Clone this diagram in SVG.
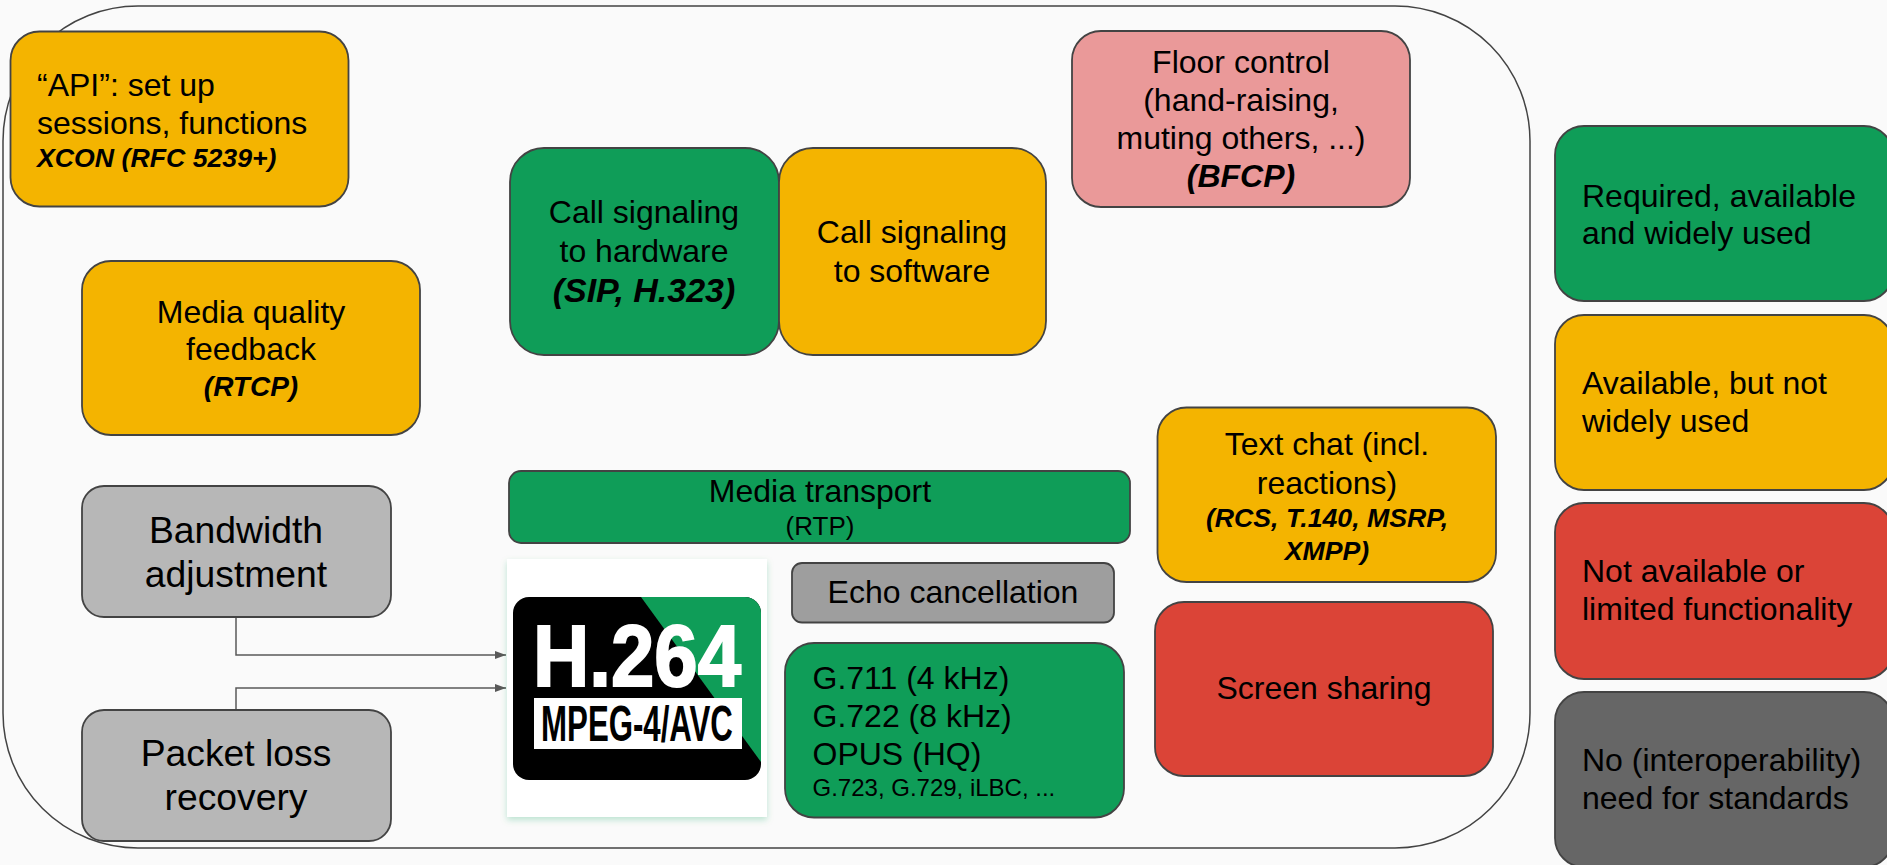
<svg xmlns="http://www.w3.org/2000/svg" width="1887" height="865" viewBox="0 0 1887 865">
<style>
text{font-family:"Liberation Sans",Arial,sans-serif;fill:#000;text-anchor:middle}
.b{stroke:#434343;stroke-width:1.8}
.g{fill:#0f9d58}.y{fill:#f4b400}.r{fill:#db4437}.p{fill:#ea9999}.l{fill:#b7b7b7}.d{fill:#9e9e9e}.k{fill:#666}
.t{font-size:32px}.s{font-size:37.300px}
.i{font-weight:bold;font-style:italic}
.st{text-anchor:start}
.c{fill:none;stroke:#595959;stroke-width:1.5}
</style>
<defs>
<marker id="a" markerWidth="12" markerHeight="10" refX="11" refY="4" orient="auto" markerUnits="userSpaceOnUse"><path d="M0 0L11 4L0 8Z" fill="#595959"/></marker>
<filter id="sh" x="-10%" y="-10%" width="120%" height="120%"><feDropShadow dx="0" dy="3" stdDeviation="3" flood-color="#0f9d58" flood-opacity=".25"/></filter>
</defs>
<rect width="1887" height="865" fill="#fafafa"/>
<rect id="frame" x="3" y="6" width="1527" height="842" rx="135" fill="none" stroke="#434343" stroke-width="1.5"/>
<g id="connectors">
<path class="c" d="M236 617V655H506" marker-end="url(#a)"/>
<path class="c" d="M236 710V688H506" marker-end="url(#a)"/>
</g>
<g id="api"><rect class="b y" x="10.500" y="31.500" width="338" height="175" rx="29"/>
<text class="t st" x="37" y="96">“API”: set up</text><text class="t st" x="37" y="133.500">sessions, functions</text><text class="i st" font-size="26.700" x="37" y="167">XCON (RFC 5239+)</text></g>
<g id="media-quality"><rect class="b y" x="82" y="261" width="338" height="174" rx="29"/>
<text class="t" x="251" y="323">Media quality</text><text class="t" x="251" y="360">feedback</text><text class="i" font-size="28" x="251" y="396">(RTCP)</text></g>
<g id="bandwidth"><rect class="b l" x="82" y="486" width="309" height="131" rx="22"/>
<text class="s" x="236" y="543">Bandwidth</text><text class="s" x="236" y="587">adjustment</text></g>
<g id="packet-loss"><rect class="b l" x="82" y="710" width="309" height="131" rx="22"/>
<text class="s" x="236" y="766">Packet loss</text><text class="s" x="236" y="810">recovery</text></g>
<g id="call-hw"><rect class="b g" x="510" y="148" width="269" height="207" rx="34"/>
<text class="t" x="644" y="223">Call signaling</text><text class="t" x="644" y="262">to hardware</text><text class="i" font-size="34" x="644" y="302">(SIP, H.323)</text></g>
<g id="call-sw"><rect class="b y" x="779" y="148" width="267" height="207" rx="34"/>
<text class="t" x="912" y="243">Call signaling</text><text class="t" x="912" y="282">to software</text></g>
<g id="floor"><rect class="b p" x="1072" y="31" width="338" height="176" rx="29"/>
<text class="t" x="1241" y="73">Floor control</text><text class="t" x="1241" y="111">(hand-raising,</text><text class="t" x="1241" y="149">muting others, ...)</text><text class="i" font-size="32" x="1241" y="187">(BFCP)</text></g>
<g id="media-transport"><rect class="b g" x="509" y="471" width="621" height="72" rx="12"/>
<text class="t" x="820" y="502">Media transport</text><text font-size="26" x="820" y="535">(RTP)</text></g>
<g id="h264"><rect x="507" y="559" width="260" height="258" fill="#fff" filter="url(#sh)"/>
<rect x="513" y="597" width="248" height="183" rx="16" fill="#000"/>
<path d="M641 597H745a16 16 0 0 1 16 16V762Z" fill="#0f9d58"/>
<text transform="translate(637 686) scale(.886 1)" font-size="88" font-weight="bold" style="fill:#fff" stroke="#fff" stroke-width="2">H.264</text>
<rect x="534" y="698" width="208" height="51" fill="#fff"/>
<text transform="translate(637 741) scale(.624 1)" font-size="50" font-weight="bold">MPEG-4/AVC</text></g>
<g id="echo"><rect class="b d" x="792" y="563" width="322" height="59.500" rx="10"/>
<text class="t" x="953" y="603">Echo cancellation</text></g>
<g id="audio"><rect class="b g" x="785" y="643" width="339" height="174.500" rx="29"/>
<text class="t st" x="812.500" y="689">G.711 (4 kHz)</text><text class="t st" x="812.500" y="727">G.722 (8 kHz)</text><text class="t st" x="812.500" y="765">OPUS (HQ)</text><text class="st" font-size="24" x="812.500" y="796">G.723, G.729, iLBC, ...</text></g>
<g id="text-chat"><rect class="b y" x="1157.500" y="407.500" width="338.500" height="174.500" rx="29"/>
<text class="t" x="1327" y="455">Text chat (incl.</text><text class="t" x="1327" y="494">reactions)</text><text class="i" font-size="26.700" x="1327" y="527">(RCS, T.140, MSRP,</text><text class="i" font-size="26.700" x="1327" y="560">XMPP)</text></g>
<g id="screen"><rect class="b r" x="1155" y="602" width="338" height="174" rx="29"/>
<text class="t" x="1324" y="699">Screen sharing</text></g>
<g id="legend-required"><rect class="b g" x="1555" y="126" width="338" height="175" rx="29"/>
<text class="t st" x="1582" y="207">Required, available</text><text class="t st" x="1582" y="244">and widely used</text></g>
<g id="legend-available"><rect class="b y" x="1555" y="315" width="338" height="175" rx="29"/>
<text class="t st" x="1582" y="394">Available, but not</text><text class="t st" x="1582" y="432">widely used</text></g>
<g id="legend-missing"><rect class="b r" x="1555" y="503" width="338" height="176" rx="29"/>
<text class="t st" x="1582" y="582">Not available or</text><text class="t st" x="1582" y="620">limited functionality</text></g>
<g id="legend-none"><rect class="b k" x="1555" y="692" width="338" height="175" rx="29"/>
<text class="t st" x="1582" y="771">No (interoperability)</text><text class="t st" x="1582" y="809">need for standards</text></g>
</svg>
